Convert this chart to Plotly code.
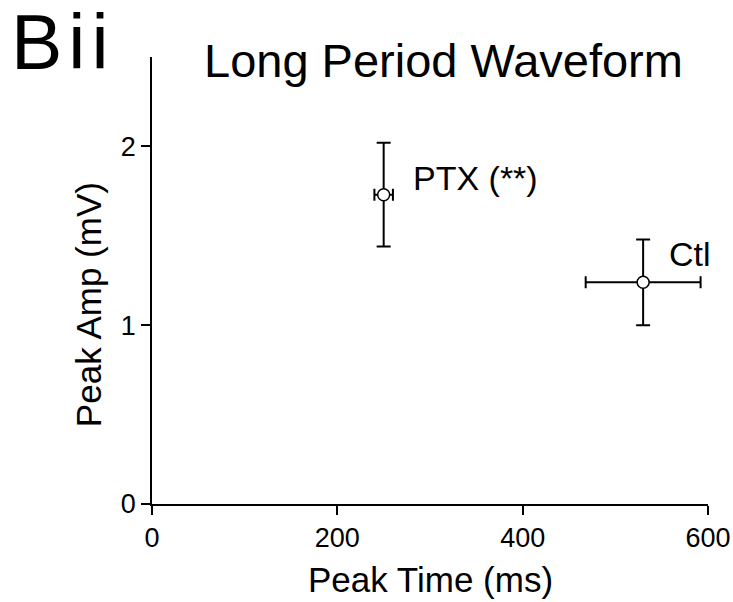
import plotly.graph_objects as go

# Group means and SEMs
groups = ["PTX (**)", "Ctl"]
peak_time = [250, 530]          # ms
peak_time_err = [10, 62]        # ms
peak_amp = [1.73, 1.24]         # mV
peak_amp_err = [0.29, 0.24]     # mV

x_ticks = [0, 200, 400, 600]
y_ticks = [0, 1, 2]

FONT = "Arial, Liberation Sans, Helvetica, sans-serif"

fig = go.Figure()

for i, g in enumerate(groups):
    fig.add_trace(go.Scatter(
        x=[peak_time[i]],
        y=[peak_amp[i]],
        mode="markers",
        name=g,
        marker=dict(symbol="circle", size=12, color="white",
                    line=dict(color="black", width=1.5)),
        error_x=dict(type="data", array=[peak_time_err[i]], visible=True,
                     color="black", thickness=2, width=6),
        error_y=dict(type="data", array=[peak_amp_err[i]], visible=True,
                     color="black", thickness=2, width=7),
        cliponaxis=False,
        showlegend=False,
    ))

# Group labels beside each point
label_shift = {"PTX (**)": (27, 17), "Ctl": (24, 28)}
for i, g in enumerate(groups):
    dx, dy = label_shift[g]
    fig.add_annotation(x=peak_time[i], y=peak_amp[i], xref="x", yref="y",
                       text=g, showarrow=False, xanchor="left", yanchor="middle",
                       xshift=dx, yshift=dy,
                       font=dict(family=FONT, size=34, color="black"))

# Panel letter (slightly tracked out), title and axis titles
fig.add_annotation(x=-0.258, y=1.126, xref="paper", yref="paper",
                   text='<span style="letter-spacing:6px">Bii</span>',
                   showarrow=False, xanchor="left", yanchor="top", yshift=4,
                   font=dict(family=FONT, size=77, color="black"))
fig.add_annotation(x=0.525, y=0.992, xref="paper", yref="paper",
                   text="Long Period Waveform", showarrow=False,
                   xanchor="center", yanchor="middle",
                   font=dict(family=FONT, size=47, color="black"))
fig.add_annotation(x=0.5, y=-0.170, xref="paper", yref="paper",
                   text="Peak Time (ms)", showarrow=False,
                   xanchor="center", yanchor="middle",
                   font=dict(family=FONT, size=35, color="black"))
fig.add_annotation(x=-0.115, y=0.445, xref="paper", yref="paper",
                   text="Peak Amp (mV)", showarrow=False, textangle=-90,
                   xanchor="center", yanchor="middle",
                   font=dict(family=FONT, size=35, color="black"))

axis_common = dict(showgrid=False, zeroline=False, showline=True,
                   linecolor="black", linewidth=1.5, ticks="outside",
                   ticklen=9, tickwidth=1.5, tickcolor="black",
                   tickfont=dict(family=FONT, size=27, color="black"),
                   automargin=False, fixedrange=True)

fig.update_xaxes(range=[0, 600], tickvals=x_ticks,
                 ticktext=[str(v) for v in x_ticks], **axis_common)
fig.update_yaxes(range=[0, 2.5], tickvals=y_ticks,
                 ticktext=[str(v) for v in y_ticks], **axis_common)

fig.update_layout(
    width=733, height=602,
    margin=dict(l=152, r=25, t=57, b=98),
    plot_bgcolor="white", paper_bgcolor="white",
    font=dict(family=FONT, color="black"),
)

fig.write_html("out.html")
